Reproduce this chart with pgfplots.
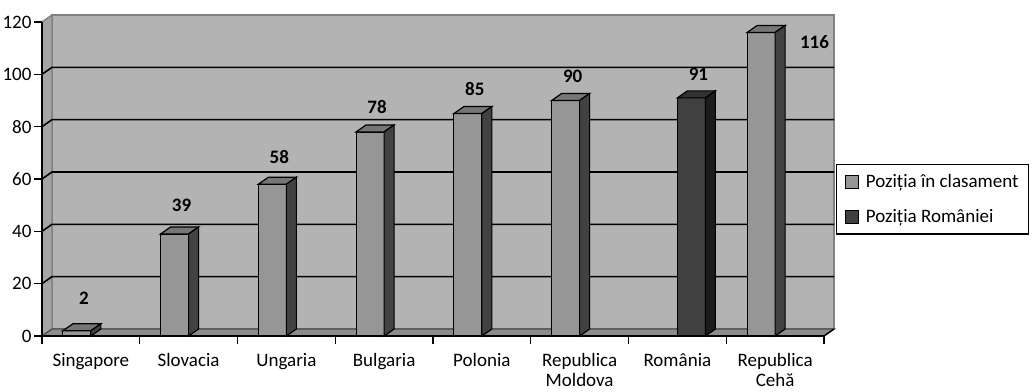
\documentclass[border=0pt]{standalone}
\usepackage{pgfplots}
\pgfplotsset{compat=1.18}
\usepackage{fontspec}
\setmainfont{Carlito}
\definecolor{wall}{RGB}{179,179,179}
\definecolor{leftwall}{RGB}{165,165,165}
\definecolor{floorc}{RGB}{140,140,140}
\definecolor{edgec}{RGB}{128,128,128}
\definecolor{frontA}{RGB}{150,150,150}
\definecolor{topA}{RGB}{118,118,118}
\definecolor{sideA}{RGB}{66,66,66}
\definecolor{frontB}{RGB}{64,64,64}
\definecolor{topB}{RGB}{50,50,50}
\definecolor{sideB}{RGB}{28,28,28}

\pgfdeclareplotmark{boxA}{%
  \pgfmathsetmacro\hh{\barh*2.616667}%
  \pgfsetlinewidth{1.2pt}\pgfsetstrokecolor{black}%
  \pgfsetfillcolor{topA}%
  \pgfpathmoveto{\pgfqpoint{-28pt}{0pt}}\pgfpathlineto{\pgfqpoint{0pt}{0pt}}%
  \pgfpathlineto{\pgfqpoint{10pt}{7pt}}\pgfpathlineto{\pgfqpoint{-18pt}{7pt}}\pgfpathclose
  \pgfusepath{fill,stroke}%
  \pgfsetfillcolor{sideA}%
  \pgfpathmoveto{\pgfqpoint{0pt}{0pt}}\pgfpathlineto{\pgfqpoint{10pt}{7pt}}%
  \pgfpathlineto{\pgfpoint{10pt}{7pt-\hh pt}}\pgfpathlineto{\pgfpoint{0pt}{-\hh pt}}\pgfpathclose
  \pgfusepath{fill,stroke}%
}
\pgfdeclareplotmark{boxB}{%
  \pgfmathsetmacro\hh{\barh*2.616667}%
  \pgfsetlinewidth{1.2pt}\pgfsetstrokecolor{black}%
  \pgfsetfillcolor{topB}%
  \pgfpathmoveto{\pgfqpoint{0pt}{0pt}}\pgfpathlineto{\pgfqpoint{28pt}{0pt}}%
  \pgfpathlineto{\pgfqpoint{38pt}{7pt}}\pgfpathlineto{\pgfqpoint{10pt}{7pt}}\pgfpathclose
  \pgfusepath{fill,stroke}%
  \pgfsetfillcolor{sideB}%
  \pgfpathmoveto{\pgfqpoint{28pt}{0pt}}\pgfpathlineto{\pgfqpoint{38pt}{7pt}}%
  \pgfpathlineto{\pgfpoint{38pt}{7pt-\hh pt}}\pgfpathlineto{\pgfpoint{28pt}{-\hh pt}}\pgfpathclose
  \pgfusepath{fill,stroke}%
}

\pgfplotstableread{
x y
0 2
1 39
2 58
3 78
4 85
5 90
7 116
}\seriesA
\pgfplotstableread{
x y
6 91
}\seriesB

\begin{document}
\begin{tikzpicture}
\path[use as bounding box] (0,0) rectangle (1035pt,391pt);
\begin{axis}[
  at={(42pt,55pt)}, anchor=south west,
  scale only axis, width=782pt, height=314pt,
  xmin=-0.5, xmax=7.5, ymin=0, ymax=120,
  clip=false, axis on top,
  axis x line*=bottom, axis y line*=left,
  axis line style={line width=1.6pt, black},
  ybar,
  ytick={0,20,...,120},
  xtick={-0.5,0.5,...,7.5},
  xticklabels={},
  extra x ticks={0,1,2,3,4,5,6,7},
  extra x tick labels={Singapore,Slovacia,Ungaria,Bulgaria,Polonia,{Republica\\Moldova},România,{Republica\\Cehă}},
  extra x tick style={tick style={draw=none}, xticklabel style={inner sep=0pt, yshift=-9pt, text depth=0pt}},
  tick align=outside,
  major tick length=8pt,
  tick style={line width=1.3pt, black},
  ticklabel style={font=\fontsize{19}{20}\selectfont},
  xticklabel style={align=center},
  yticklabel style={xshift=1pt},
  /pgf/number format/assume math mode=true,
  legend style={at={(1.0153,0.5478)}, anchor=north west, draw=black, line width=1.5pt, fill=white,
    font=\fontsize{19}{22}\selectfont, inner xsep=8pt, inner ysep=8pt, row sep=16pt, column sep=5pt},
  legend cell align=left,
  legend image code/.code={\draw[#1, draw=black, line width=1.2pt] (0pt,-6.5pt) rectangle (13pt,6.5pt);},
  visualization depends on={rawy \as \barh},
  nodes near coords style={font=\bfseries\fontsize{19}{22}\selectfont, anchor=center,
    xshift={ifthenelse(\barh>100,53.4,7)*1pt},
    yshift={ifthenelse(\barh>100,-9.5,33-0.1*\barh)*1pt}},
]
% walls and floor
\fill[wall, draw=edgec, line width=1.6pt] ([shift={(10pt,7pt)}]axis cs:-0.5,0) rectangle ([shift={(10pt,7pt)}]axis cs:7.5,120);
\fill[leftwall, draw=edgec, line width=1.4pt] (axis cs:-0.5,0) -- ([shift={(10pt,7pt)}]axis cs:-0.5,0) -- ([shift={(10pt,7pt)}]axis cs:-0.5,120) -- (axis cs:-0.5,120) -- cycle;
\pgfplotsinvokeforeach{20,40,60,80,100}{
  \draw[black, line width=1.6pt] (axis cs:-0.5,#1) -- ([shift={(10pt,7pt)}]axis cs:-0.5,#1) -- ([shift={(10pt,7pt)}]axis cs:7.5,#1);
}
\fill[floorc, draw=black!70, line width=1.2pt] (axis cs:-0.5,0) -- (axis cs:7.5,0) -- ([shift={(10pt,7pt)}]axis cs:7.5,0) -- ([shift={(10pt,7pt)}]axis cs:-0.5,0) -- cycle;
\draw[black, line width=1.4pt] (axis cs:7.5,0) -- ([shift={(10pt,7pt)}]axis cs:7.5,0);

\addplot[fill=frontA, draw=black, line width=1.2pt, bar width=28pt, bar shift=-14pt, nodes near coords] table[x=x,y=y] {\seriesA};
\addlegendentry{Poziția în clasament}
\addplot[fill=frontB, draw=black, line width=1.2pt, bar width=28pt, bar shift=14pt, nodes near coords] table[x=x,y=y] {\seriesB};
\addlegendentry{Poziția României}

\addplot[forget plot, only marks, scatter, mark=boxA] table[x=x,y=y] {\seriesA};
\addplot[forget plot, only marks, scatter, mark=boxB] table[x=x,y=y] {\seriesB};
\end{axis}
\end{tikzpicture}
\end{document}
